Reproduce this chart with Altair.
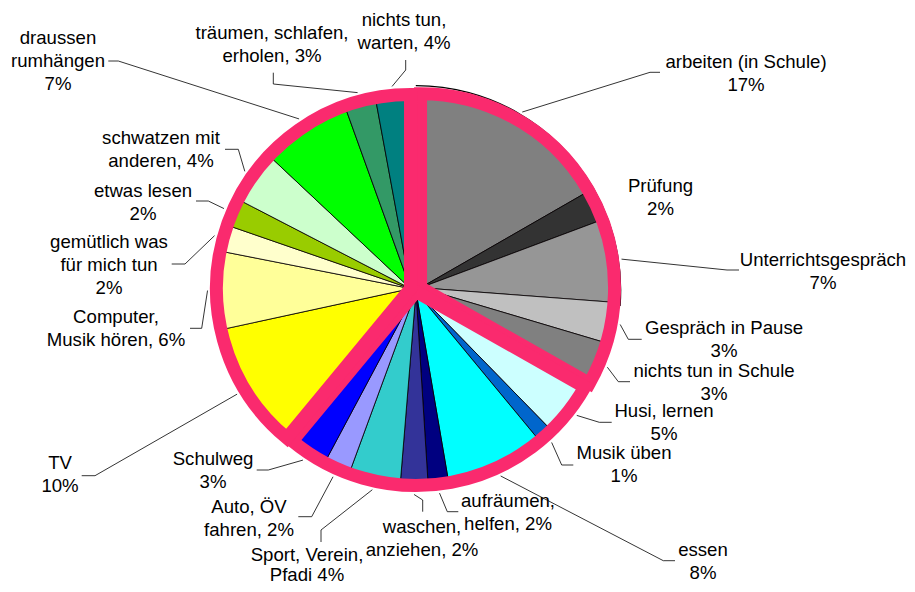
import math
import altair as alt
import pandas as pd

# ---------------- data ----------------
CATEGORIES = [
    "arbeiten (in Schule)", "Prüfung", "Unterrichtsgespräch", "Gespräch in Pause",
    "nichts tun in Schule",
    "Husi, lernen", "Musik üben", "essen", "aufräumen, helfen", "waschen, anziehen",
    "Sport, Verein, Pfadi", "Auto, ÖV fahren", "Schulweg",
    "TV", "Computer, Musik hören", "gemütlich was für mich tun", "etwas lesen",
    "schwatzen mit anderen", "draussen rumhängen", "träumen, schlafen, erholen",
    "nichts tun, warten",
]
# share of the circle (%)
VALUES = [16.7, 2.6, 6.9, 3.4, 3.6,
          4.5, 1.3, 8.3, 1.7, 2.3, 4.3, 2.2, 3.2,
          10.6, 6.5, 2.2, 2.3, 4.4, 7.5, 2.6, 2.9]
GROUPS = ["Schule"] * 5 + ["Pflichten"] * 8 + ["Freizeit"] * 8
GROUP_NAMES = ["Schule", "Pflichten", "Freizeit"]
LABEL_TEXTS = [
    "arbeiten (in Schule)\n17%", "Prüfung\n2%", "Unterrichtsgespräch\n7%",
    "Gespräch in Pause\n3%", "nichts tun in Schule\n3%",
    "Husi, lernen\n5%", "Musik üben\n1%", "essen\n8%", "aufräumen,\nhelfen, 2%",
    "waschen,\nanziehen, 2%", "Sport, Verein,\nPfadi 4%", "Auto, ÖV\nfahren, 2%",
    "Schulweg\n3%",
    "TV\n10%", "Computer,\nMusik hören, 6%", "gemütlich was\nfür mich tun\n2%",
    "etwas lesen\n2%", "schwatzen mit\nanderen, 4%", "draussen\nrumhängen\n7%",
    "träumen, schlafen,\nerholen, 3%", "nichts tun,\nwarten, 4%",
]

# ---------------- style ----------------
COLORS = ["#808080", "#333333", "#969696", "#C0C0C0", "#808080",
          "#CCFFFF", "#0066CC", "#00FFFF", "#000080", "#333399", "#33CCCC",
          "#9999FF", "#0000FF",
          "#FFFF00", "#FFFF99", "#FFFFCC", "#99CC00", "#CCFFCC", "#00FF00",
          "#339966", "#008080"]
PINK = "#FA2A6E"
FONT = "Liberation Sans"
FONT_SIZE = 18.6
LINE_H = 23

# ---------------- layout (pixels in the plot area) ----------------
W, H = 899, 576
R = 194                      # radius of slices (centre of the pink rim)
RIM = 13                     # pink rim width
PIE_CENTER = (407.8, 282.5)
EXPLODE = {"Schule": 5.5, "Pflichten": 1.0, "Freizeit": 5.6}
LEADER_R = 203
BLACK_ARC_R = 204.9
LABEL_POS = [
    (738, 54), (652.5, 178), (815, 252), (716, 320), (706, 363),
    (656, 403), (616, 445), (695, 542), (500, 493), (414, 519), (299, 547),
    (241, 499), (205, 451),
    (52, 455), (108, 309), (101, 234), (135, 183), (153, 130), (50, 30),
    (264, 25), (396, 12),
]
LABEL_LINE_H = {10: 20}
LEADER_BENDS = [
    [(642, 64.3), (652, 64.3)], None, [(719, 262), (731, 262)],
    [(620.3, 331.3), (633.7, 331.3)], [(610.3, 373.7), (622, 373.7)],
    [(591.3, 414.3), (603.7, 414.3)], [(553.7, 457), (565.3, 457)],
    [(655.3, 552.7), (667, 552.7)], [(439.3, 503.7), (450.3, 503.7)],
    [(414.7, 492), (414.7, 503.7)], [(313, 522), (313, 534)],
    [(303.7, 508.7), (290.3, 508.7)], [(260.3, 462), (248.7, 462)],
    [(87, 467.7), (73.7, 467.7)], [(193.7, 320.3), (182, 320.3)],
    [(177, 256), (163.7, 256)], [(200.3, 193), (188, 193)],
    [(230.3, 141.3), (217, 141.3)], [(110.3, 53), (100.3, 53)],
    [(265.3, 76), (265.3, 64.7)], [(397.7, 62), (397.7, 52)],
]

# ---------------- derived geometry ----------------
total = sum(VALUES)
cum_end = []
c = 0.0
for v in VALUES:
    c += v
    cum_end.append(c)


def unit(pct):
    a = pct / total * 2 * math.pi
    return math.sin(a), -math.cos(a)


GROUP_CENTER = {}
for g in GROUP_NAMES:
    ids = [i for i, gg in enumerate(GROUPS) if gg == g]
    g0 = cum_end[ids[0]] - VALUES[ids[0]]
    g1 = cum_end[ids[-1]]
    ux, uy = unit((g0 + g1) / 2)
    GROUP_CENTER[g] = (PIE_CENTER[0] + EXPLODE[g] * ux, PIE_CENTER[1] + EXPLODE[g] * uy)

# ---------------- tables ----------------
slices = pd.DataFrame({
    "idx": list(range(len(CATEGORIES))),
    "category": CATEGORIES,
    "value": VALUES,
    "group": GROUPS,
})

leader_rows = []
for i, v in enumerate(VALUES):
    if LEADER_BENDS[i] is None:
        continue
    cx, cy = GROUP_CENTER[GROUPS[i]]
    ux, uy = unit(cum_end[i] - v / 2)
    pts = [(cx + LEADER_R * ux, cy + LEADER_R * uy)] + LEADER_BENDS[i]
    for j, (px, py) in enumerate(pts):
        leader_rows.append({"lid": i, "pt": j, "x": px, "y": py})
leaders = pd.DataFrame(leader_rows)

text_rows = []
for i, t in enumerate(LABEL_TEXTS):
    lx, ly = LABEL_POS[i]
    lh = LABEL_LINE_H.get(i, LINE_H)
    for j, line in enumerate(t.split("\n")):
        text_rows.append({"x": lx, "y": ly + j * lh, "text": line})
texts = pd.DataFrame(text_rows)

theta_scale = alt.Scale(domain=[0, total], range=[0, 2 * math.pi])
color_scale = alt.Scale(domain=CATEGORIES, range=COLORS)

base = (
    alt.Chart(slices)
    .transform_window(cum="sum(value)", sort=[alt.SortField("idx")])
    .transform_calculate(start="datum.cum - datum.value")
)

layers = []

# pink underlay fills the seams between the exploded groups
layers.append(
    base.mark_arc(radius=R, color=PINK).encode(
        theta=alt.Theta("start:Q", stack=False, scale=theta_scale),
        theta2="cum:Q",
        x=alt.value(PIE_CENTER[0]), y=alt.value(PIE_CENTER[1]),
    )
)

for g in GROUP_NAMES:
    cx, cy = GROUP_CENTER[g]
    layers.append(
        base.transform_filter(alt.datum.group == g)
        .mark_arc(radius=R, stroke="black", strokeWidth=0.8)
        .encode(
            theta=alt.Theta("start:Q", stack=False, scale=theta_scale),
            theta2="cum:Q",
            color=alt.Color("category:N", scale=color_scale, legend=None),
            x=alt.value(cx), y=alt.value(cy),
        )
    )

# thin black outer arc above the first slices
layers.append(
    base.transform_filter(alt.datum.idx < 3)
    .mark_arc(radius=BLACK_ARC_R + 0.6, radius2=BLACK_ARC_R - 0.6, color="black")
    .encode(
        theta=alt.Theta("start:Q", stack=False, scale=theta_scale),
        theta2="cum:Q",
        x=alt.value(PIE_CENTER[0]), y=alt.value(PIE_CENTER[1]),
    )
)

for g in GROUP_NAMES:
    cx, cy = GROUP_CENTER[g]
    layers.append(
        base.transform_aggregate(gstart="min(start)", gend="max(cum)", groupby=["group"])
        .transform_filter(alt.datum.group == g)
        .mark_arc(radius=R, filled=False, stroke=PINK, strokeWidth=RIM)
        .encode(
            theta=alt.Theta("gstart:Q", stack=False, scale=theta_scale),
            theta2="gend:Q",
            x=alt.value(cx), y=alt.value(cy),
        )
    )

layers.append(
    alt.Chart(leaders).mark_line(color="black", strokeWidth=0.8).encode(
        x=alt.X("x:Q", scale=None, axis=None),
        y=alt.Y("y:Q", scale=None, axis=None),
        detail="lid:N",
        order="pt:O",
    )
)

layers.append(
    alt.Chart(texts).mark_text(font=FONT, fontSize=FONT_SIZE, align="center",
                               baseline="middle", color="black").encode(
        x=alt.X("x:Q", scale=None, axis=None),
        y=alt.Y("y:Q", scale=None, axis=None),
        text="text:N",
    )
)

chart = (
    alt.layer(*layers)
    .properties(width=W, height=H, padding=0, autosize=alt.AutoSizeParams(type="none"))
    .configure_view(stroke=None)
)

chart.save("out.html", embed_options={"renderer": "svg", "actions": False})
